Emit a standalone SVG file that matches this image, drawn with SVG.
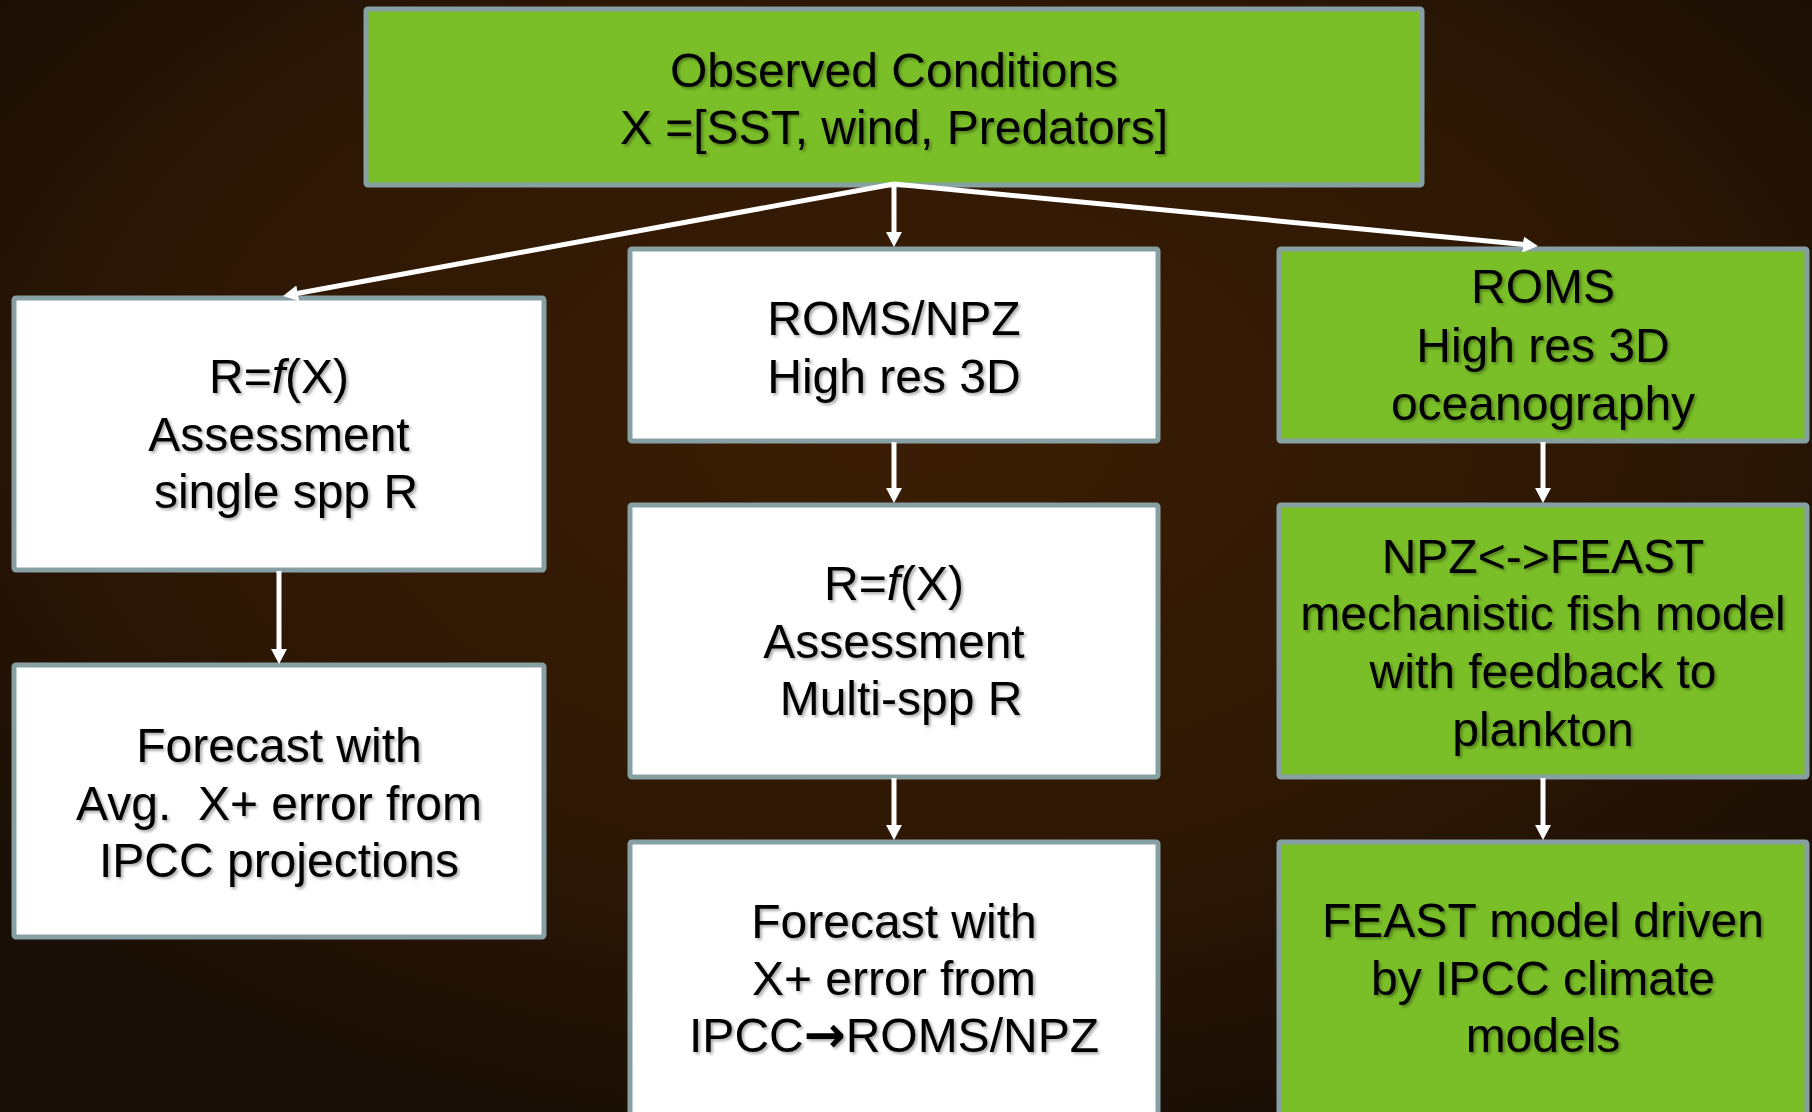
<svg xmlns="http://www.w3.org/2000/svg" width="1812" height="1112" viewBox="0 0 1812 1112">
  <defs>
    <radialGradient id="bg" cx="50%" cy="38%" r="65%">
      <stop offset="0" stop-color="#3b1d04"/>
      <stop offset="0.6" stop-color="#2e1804"/>
      <stop offset="1" stop-color="#1a0f06"/>
    </radialGradient>
    <filter id="sh" x="-5%" y="-20%" width="110%" height="140%">
      <feDropShadow dx="2" dy="2" stdDeviation="1.5" flood-color="#000" flood-opacity="0.35"/>
    </filter>
    <marker id="ah" viewBox="0 0 15 16" refX="1" refY="8" markerWidth="15" markerHeight="16" markerUnits="userSpaceOnUse" orient="auto">
      <path d="M0,0 L15,8 L0,16 z" fill="#ffffff"/>
    </marker>
    <style>
      .box { stroke: #87a0a3; stroke-width: 5; }
      .g { fill: #7abf27; }
      .w { fill: #ffffff; }
      text { font-family: "Liberation Sans", Arial, sans-serif; font-size: 48px; fill: #000; text-anchor: middle; filter: url(#sh); }
      .arr { font-family: "DejaVu Sans", sans-serif; font-weight: bold; font-size: 50px; }
      .conn { stroke: #ffffff; stroke-width: 5; fill: none; marker-end: url(#ah); }
    </style>
  </defs>
  <rect x="0" y="0" width="1812" height="1112" fill="url(#bg)"/>

  <g id="observed">
    <rect class="box g" x="366" y="9" width="1056" height="176" rx="2"/>
    <text x="894" y="87">Observed Conditions</text>
    <text x="894" y="144">X =[SST, wind, Predators]</text>
  </g>

  <g id="left-assessment">
    <rect class="box w" x="14" y="298" width="530" height="272" rx="2"/>
    <text x="279" y="393">R=<tspan font-style="italic">f</tspan>(X)</text>
    <text x="279" y="451">Assessment</text>
    <text x="286" y="508">single spp R</text>
  </g>

  <g id="left-forecast">
    <rect class="box w" x="14" y="665" width="530" height="272" rx="2"/>
    <text x="279" y="762">Forecast with</text>
    <text x="279" y="820" xml:space="preserve">Avg.  X+ error from</text>
    <text x="279" y="877">IPCC projections</text>
  </g>

  <g id="mid-roms">
    <rect class="box w" x="630" y="249" width="528" height="192" rx="2"/>
    <text x="894" y="335">ROMS/NPZ</text>
    <text x="894" y="393">High res 3D</text>
  </g>

  <g id="mid-assessment">
    <rect class="box w" x="630" y="505" width="528" height="272" rx="2"/>
    <text x="894" y="600">R=<tspan font-style="italic">f</tspan>(X)</text>
    <text x="894" y="658">Assessment</text>
    <text x="901" y="715">Multi-spp R</text>
  </g>

  <g id="mid-forecast">
    <rect class="box w" x="630" y="842" width="528" height="300" rx="2"/>
    <text x="894" y="938">Forecast with</text>
    <text x="894" y="995">X+ error from</text>
    <text x="894" y="1052">IPCC<tspan class="arr">→</tspan>ROMS/NPZ</text>
  </g>

  <g id="right-roms">
    <rect class="box g" x="1279" y="249" width="528" height="192" rx="2"/>
    <text x="1543" y="303">ROMS</text>
    <text x="1543" y="362">High res 3D</text>
    <text x="1543" y="420">oceanography</text>
  </g>

  <g id="right-feast">
    <rect class="box g" x="1279" y="505" width="528" height="272" rx="2"/>
    <text x="1543" y="573">NPZ&lt;-&gt;FEAST</text>
    <text x="1543" y="630">mechanistic fish model</text>
    <text x="1543" y="688">with feedback to</text>
    <text x="1543" y="746">plankton</text>
  </g>

  <g id="right-climate">
    <rect class="box g" x="1279" y="842" width="528" height="300" rx="2"/>
    <text x="1543" y="937">FEAST model driven</text>
    <text x="1543" y="995">by IPCC climate</text>
    <text x="1543" y="1052">models</text>
  </g>

  <g id="connectors">
    <line class="conn" x1="894" y1="184" x2="296.8" y2="293.5"/>
    <line class="conn" x1="894" y1="184" x2="894" y2="233"/>
    <line class="conn" x1="894" y1="184" x2="1524" y2="244.6"/>
    <line class="conn" x1="279" y1="571" x2="279" y2="650"/>
    <line class="conn" x1="894" y1="442" x2="894" y2="489"/>
    <line class="conn" x1="894" y1="778" x2="894" y2="826"/>
    <line class="conn" x1="1543" y1="442" x2="1543" y2="489"/>
    <line class="conn" x1="1543" y1="778" x2="1543" y2="826"/>
  </g>
</svg>
